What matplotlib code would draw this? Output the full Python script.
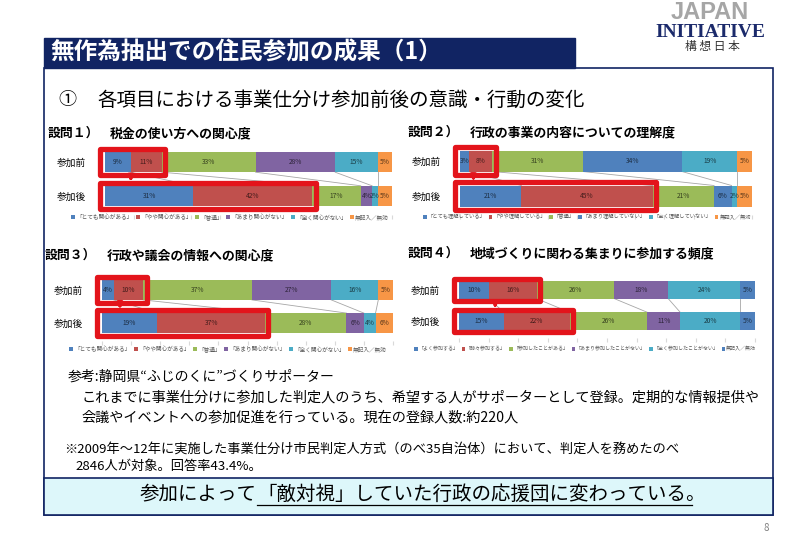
import matplotlib
matplotlib.use('Agg')
import matplotlib.pyplot as plt
from matplotlib.patches import Rectangle
from matplotlib.colors import to_rgb
import numpy as np

plt.rcParams['font.family'] = ['Noto Sans CJK JP', 'DejaVu Sans']

W, H = 800, 553

# データ
rows = ['参加前', '参加後']

q1_title = '税金の使い方への関心度'
q1_before = [9, 11, 33, 28, 15, 5]
q1_after = [31, 42, 17, 4, 2, 5]
q1_labels = ['「とても関心がある」', '「やや関心がある」', '「普通」',
             '「あまり関心がない」', '「全く関心がない」', '無記入／無効']

q2_title = '行政の事業の内容についての理解度'
q2_before = [3, 8, 31, 34, 19, 5]
q2_after = [21, 45, 21, 6, 2, 5]
q2_labels = ['「とても理解している」', '「やや理解している」', '「普通」',
             '「あまり理解していない」', '「全く理解していない」', '無記入／無効']

q3_title = '行政や議会の情報への関心度'
q3_before = [4, 10, 37, 27, 16, 5]
q3_after = [19, 37, 28, 6, 4, 6]
q3_labels = q1_labels

q4_title = '地域づくりに関わる集まりに参加する頻度'
q4_before = [10, 16, 26, 18, 24, 5]
q4_after = [15, 22, 26, 11, 20, 5]
q4_labels = ['「よく参加する」', '「時々参加する」', '「参加したことがある」',
             '「あまり参加したことがない」', '「全く参加したことがない」', '無記入／無効']

colors_1 = ['#4F81BD', '#C0504D', '#9BBB59', '#8064A2', '#4BACC6', '#F79646']
colors_2 = ['#4F81BD', '#C0504D', '#9BBB59', '#4F81BD', '#4BACC6', '#F79646']
colors_4 = ['#4F81BD', '#C0504D', '#9BBB59', '#8064A2', '#4BACC6', '#4F81BD']

NAVY = '#112463'
RED = '#E3141B'

fig = plt.figure(figsize=(8, 5.53), dpi=100)


def fx(px):
    return px / W


def fy(py):
    return 1 - py / H


def draw_question(num, title, before, after, labels, colors,
                  x0, x1, y_before, y_after, bar_h, title_xy, legend_xy, leg_fs):
    unit = y_after - y_before
    top = y_before - 0.55 * unit
    bottom = y_after + 0.55 * unit
    ax = fig.add_axes([fx(x0), fy(bottom), (x1 - x0) / W, (bottom - top) / H])
    ax.set_xlim(0, 100)
    ax.set_ylim(1.55, -0.55)

    vals = np.array([before, after], dtype=float)
    pct = vals / vals.sum(axis=1, keepdims=True) * 100
    left = np.cumsum(pct, axis=1) - pct
    right = left + pct

    for i in range(len(labels)):
        ax.barh([0, 1], pct[:, i], left=left[:, i], height=bar_h,
                color=colors[i], label=labels[i], zorder=2)
        dark = tuple(c * 0.35 for c in to_rgb(colors[i]))
        for r in range(2):
            ax.text(left[r, i] + pct[r, i] / 2, r, f'{int(vals[r, i])}%',
                    ha='center', va='center', fontsize=4.8, color=dark, zorder=3)

    # 系列線
    for k in range(len(labels)):
        ax.plot([right[0, k], right[1, k]], [bar_h / 2, 1 - bar_h / 2],
                color='#A6A6A6', lw=0.6, zorder=1)

    # 赤枠
    pad_y = 0.09
    for r in range(2):
        rect = Rectangle((-1.8, r - bar_h / 2 - pad_y), right[r, 1] + 3.0,
                         bar_h + 2 * pad_y, fill=False, edgecolor=RED, lw=3.8,
                         joinstyle='round', clip_on=False, zorder=4)
        ax.add_patch(rect)
    xc = (right[0, 1] - 1.8) / 2
    ax.annotate('', xy=(xc, 1 - bar_h / 2 - pad_y - 0.04),
                xytext=(xc, bar_h / 2 + pad_y + 0.04),
                arrowprops=dict(arrowstyle='-|>', color=RED, lw=2.2,
                                mutation_scale=7, shrinkA=0, shrinkB=0),
                annotation_clip=False, zorder=5)

    ax.set_yticks([0, 1])
    ax.set_yticklabels(rows, fontsize=7)
    ax.tick_params(axis='y', length=0, pad=14)
    ax.set_xticks(range(0, 101, 10))
    ax.tick_params(axis='x', length=3, color='#D9D9D9', labelbottom=False)
    for s in ax.spines.values():
        s.set_visible(False)

    leg = ax.legend(loc='center', bbox_to_anchor=(fx(legend_xy[0]), fy(legend_xy[1])),
                    bbox_transform=fig.transFigure, ncol=6, fontsize=leg_fs,
                    frameon=False, handlelength=0.7, handleheight=0.7,
                    handletextpad=0.2, columnspacing=0.6, borderpad=0)
    for t in leg.get_texts():
        t.set_color('#595959')

    fig.text(fx(title_xy[0]), fy(title_xy[1]), f'設問{num}）', fontsize=9.3,
             weight='bold', va='center')
    fig.text(fx(title_xy[0] + 62), fy(title_xy[1]), title, fontsize=9.3,
             weight='bold', va='center')
    return ax


# 枠とタイトル
fig.add_artist(Rectangle((fx(44), fy(515)), fx(773) - fx(44), (515 - 68) / H,
                         transform=fig.transFigure, fill=False, edgecolor=NAVY, lw=1.2))
fig.add_artist(Rectangle((fx(44), fy(68)), fx(575) - fx(44), 30 / H,
                         transform=fig.transFigure, color=NAVY))
fig.text(fx(50), fy(53), '無作為抽出での住民参加の成果（1）', color='white',
         fontsize=17, weight='bold', va='center')

# ロゴ
fig.text(fx(710), fy(19), 'JAPAN', ha='center', va='baseline', fontsize=17,
         weight='bold', color='#A6A6A6', family='Liberation Sans')
fig.text(fx(710), fy(37), 'INITIATIVE', ha='center', va='baseline', fontsize=14,
         weight='bold', color='#1B2A6B', family='Liberation Serif')
fig.text(fx(712), fy(47), '構 想 日 本', ha='center', va='center', fontsize=8.5,
         color='#333333')

fig.text(fx(58), fy(100), '①', fontsize=13, va='center')
fig.text(fx(97), fy(100), '各項目における事業仕分け参加前後の意識・行動の変化',
         fontsize=14, va='center')

draw_question('１', q1_title, q1_before, q1_after, q1_labels, colors_1,
              105, 392, 162, 196, 0.6, (48, 133), (230, 217), 4.1)
draw_question('２', q2_title, q2_before, q2_after, q2_labels, colors_2,
              460, 752, 161, 196, 0.6, (408, 132), (587, 217), 3.8)
draw_question('３', q3_title, q3_before, q3_after, q3_labels, colors_1,
              102, 393, 290, 323, 0.6, (45, 255), (228, 349), 4.1)
draw_question('４', q4_title, q4_before, q4_after, q4_labels, colors_4,
              459, 755, 290, 321, 0.56, (408, 253), (585, 349), 3.6)

# 参考テキスト
fig.text(fx(68), fy(377), '参考:静岡県“ふじのくに”づくりサポーター', fontsize=10, va='center')
fig.text(fx(82), fy(397), 'これまでに事業仕分けに参加した判定人のうち、希望する人がサポーターとして登録。定期的な情報提供や',
         fontsize=10.2, va='center')
fig.text(fx(82), fy(417), '会議やイベントへの参加促進を行っている。現在の登録人数:約220人',
         fontsize=10.2, va='center')
fig.text(fx(64), fy(450), '※2009年～12年に実施した事業仕分け市民判定人方式（のべ35自治体）において、判定人を務めたのべ',
         fontsize=9.5, va='center')
fig.text(fx(75), fy(466), '2846人が対象。回答率43.4%。', fontsize=9.5, va='center')

# 結論ボックス
fig.add_artist(Rectangle((fx(44), fy(515)), fx(773) - fx(44), (515 - 478) / H,
                         transform=fig.transFigure, facecolor='#DDF7FA',
                         edgecolor=NAVY, lw=1.2))
t1 = fig.text(fx(140), fy(494), '参加によって', fontsize=14, va='center')
fig.canvas.draw()
r = fig.canvas.get_renderer()
bb = t1.get_window_extent(r)
t2 = fig.text(bb.x1 / W, fy(494), '「敵対視」していた行政の応援団に変わっている。',
              fontsize=14, va='center')
bb2 = t2.get_window_extent(r)
fig.add_artist(plt.Line2D([bb.x1 / W, (bb2.x1 - 14) / W], [fy(505), fy(505)],
                          transform=fig.transFigure, color='black', lw=0.9))

fig.text(fx(763), fy(528), '8', fontsize=7, color='#808080', va='center')

fig.savefig('out.png', dpi=100)
